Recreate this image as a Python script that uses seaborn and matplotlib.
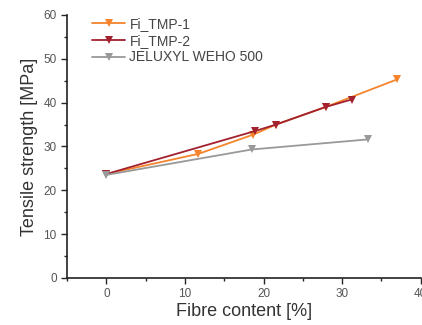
import numpy as np
import pandas as pd
import matplotlib
matplotlib.use("Agg")
import matplotlib.pyplot as plt
from matplotlib.ticker import MultipleLocator
import seaborn as sns

# values
tmp1_x = [0, 11.7, 18.7, 21.6, 27.9, 37.0]
tmp1_y = [23.7, 28.3, 32.7, 35.0, 39.0, 45.3]
tmp2_x = [0, 18.9, 21.6, 27.9, 31.2]
tmp2_y = [23.7, 33.5, 35.0, 39.0, 40.7]
jel_x = [0, 18.5, 33.3]
jel_y = [23.5, 29.3, 31.6]

series = ["Fi_TMP-1", "Fi_TMP-2", "JELUXYL WEHO 500"]
colors = ["#F5842C", "#A3202E", "#999999"]

df = pd.concat([
    pd.DataFrame({"x": tmp1_x, "y": tmp1_y, "series": series[0]}),
    pd.DataFrame({"x": tmp2_x, "y": tmp2_y, "series": series[1]}),
    pd.DataFrame({"x": jel_x, "y": jel_y, "series": series[2]}),
])

sns.set_style("ticks")
plt.rcParams["font.family"] = ["Liberation Sans", "DejaVu Sans"]

fig = plt.figure(figsize=(4.22, 3.25), dpi=100)
ax = fig.add_axes([0.159, 0.145, 0.838, 0.809])

sns.lineplot(data=df, x="x", y="y", hue="series", palette=colors,
             marker="v", markersize=6, markeredgewidth=0, linewidth=1.3,
             sort=False, estimator=None, ax=ax)

ax.set_xlim(-5, 40)
ax.set_ylim(0, 60)
ax.xaxis.set_major_locator(MultipleLocator(10))
ax.xaxis.set_minor_locator(MultipleLocator(5))
ax.yaxis.set_major_locator(MultipleLocator(10))
ax.yaxis.set_minor_locator(MultipleLocator(5))
ax.tick_params(which="major", length=4, width=1, labelsize=8.5, labelcolor="#555555", direction="out")
ax.tick_params(which="minor", length=2.5, width=1, direction="out")
for s in ["top", "right"]:
    ax.spines[s].set_visible(False)
for s in ["left", "bottom"]:
    ax.spines[s].set_linewidth(1.2)
    ax.spines[s].set_color("#222222")

ax.set_xlabel("Fibre content [%]", fontsize=13, color="#333333", labelpad=2)
ax.set_ylabel("Tensile strength [MPa]", fontsize=13, color="#333333", labelpad=4)

leg = ax.legend(title=None, loc="upper left", bbox_to_anchor=(0.035, 1.04), frameon=False,
                fontsize=10, handlelength=2.4, handletextpad=0.3, labelspacing=0.2)
for t in leg.get_texts():
    t.set_color("#444444")

fig.savefig("out.png", dpi=100)
